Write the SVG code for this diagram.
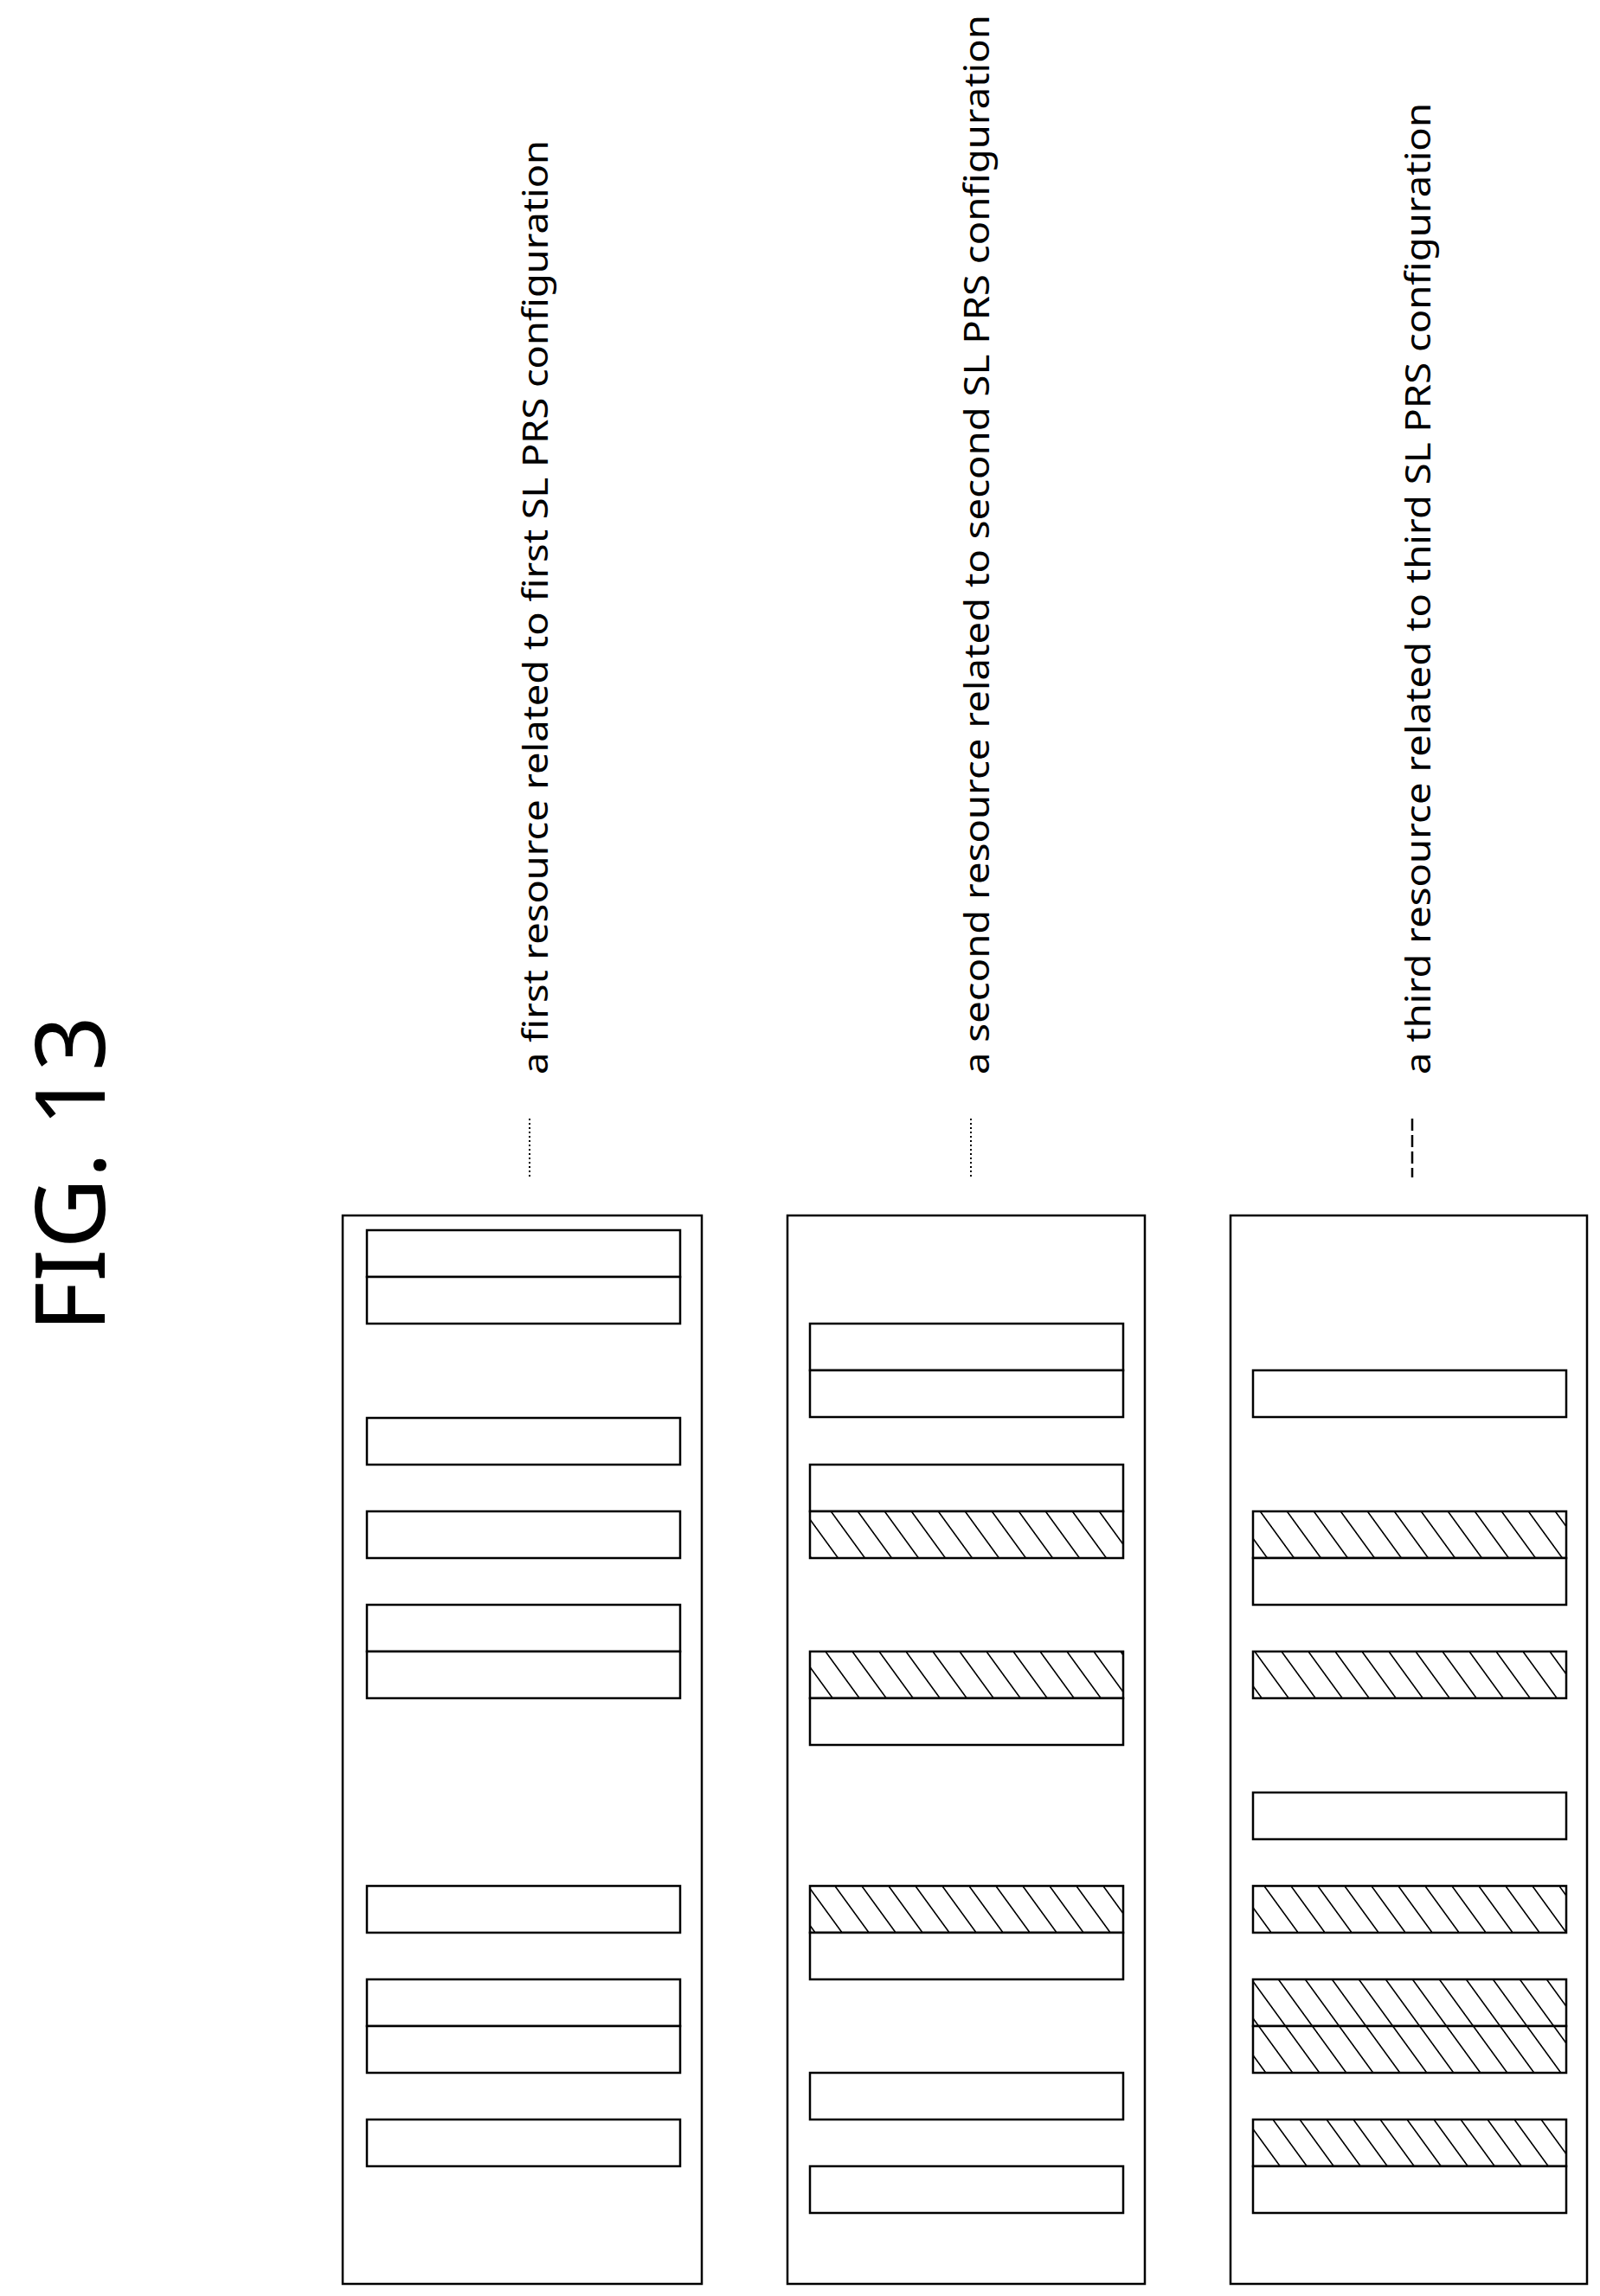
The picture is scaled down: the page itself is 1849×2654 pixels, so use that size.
<svg xmlns="http://www.w3.org/2000/svg" width="1849" height="2654" viewBox="0 0 1849 2654">
<style>
.outer{fill:none;stroke:#000;stroke-width:2.5}
.c{fill:#fff;stroke:#000;stroke-width:2.5}
.h{fill:url(#hatch);stroke:#000;stroke-width:2.5}
.lbl{font-family:"Noto Sans","DejaVu Sans",sans-serif;font-size:40px;fill:#000}
.title{font-family:"Noto Sans","DejaVu Sans",sans-serif;font-size:112px;fill:#000}
</style>
<defs>
<pattern id="hatch" patternUnits="userSpaceOnUse" width="31" height="10" patternTransform="skewX(36)">
<rect width="31" height="10" fill="#fff"/>
<line x1="1" y1="0" x2="1" y2="10" stroke="#000" stroke-width="2"/>
</pattern>
</defs>
<rect width="1849" height="2654" fill="#fff"/>
<text class="title" transform="translate(121,1540) rotate(-90)" textLength="366" lengthAdjust="spacingAndGlyphs">FIG. 13</text>
<g id="legend">
<line x1="612" y1="1293" x2="612" y2="1361" stroke="#000" stroke-width="2" stroke-dasharray="2,3"/>
<text class="lbl" transform="translate(633,1242) rotate(-90)" textLength="1080" lengthAdjust="spacingAndGlyphs">a first resource related to first SL PRS configuration</text>
<line x1="1122" y1="1293" x2="1122" y2="1361" stroke="#000" stroke-width="2" stroke-dasharray="2,3"/>
<text class="lbl" transform="translate(1143,1242) rotate(-90)" textLength="1225" lengthAdjust="spacingAndGlyphs">a second resource related to second SL PRS configuration</text>
<line x1="1632" y1="1293" x2="1632" y2="1361" stroke="#000" stroke-width="2.5" stroke-dasharray="14,5"/>
<text class="lbl" transform="translate(1653,1242) rotate(-90)" textLength="1123" lengthAdjust="spacingAndGlyphs">a third resource related to third SL PRS configuration</text>
</g>
<g id="config1">
<rect class="outer" x="396" y="1405" width="415" height="1235"/>
<rect class="c" x="424" y="1422" width="362" height="54"/>
<rect class="c" x="424" y="1476" width="362" height="54"/>
<rect class="c" x="424" y="1639" width="362" height="54"/>
<rect class="c" x="424" y="1747" width="362" height="54"/>
<rect class="c" x="424" y="1855" width="362" height="54"/>
<rect class="c" x="424" y="1909" width="362" height="54"/>
<rect class="c" x="424" y="2180" width="362" height="54"/>
<rect class="c" x="424" y="2288" width="362" height="54"/>
<rect class="c" x="424" y="2342" width="362" height="54"/>
<rect class="c" x="424" y="2450" width="362" height="54"/>
</g>
<g id="config2">
<rect class="outer" x="910" y="1405" width="413" height="1235"/>
<rect class="c" x="936" y="1530" width="362" height="54"/>
<rect class="c" x="936" y="1584" width="362" height="54"/>
<rect class="c" x="936" y="1693" width="362" height="54"/>
<rect class="h" x="936" y="1747" width="362" height="54"/>
<rect class="h" x="936" y="1909" width="362" height="54"/>
<rect class="c" x="936" y="1963" width="362" height="54"/>
<rect class="h" x="936" y="2180" width="362" height="54"/>
<rect class="c" x="936" y="2234" width="362" height="54"/>
<rect class="c" x="936" y="2396" width="362" height="54"/>
<rect class="c" x="936" y="2504" width="362" height="54"/>
</g>
<g id="config3">
<rect class="outer" x="1422" y="1405" width="412" height="1235"/>
<rect class="c" x="1448" y="1584" width="362" height="54"/>
<rect class="h" x="1448" y="1747" width="362" height="54"/>
<rect class="c" x="1448" y="1801" width="362" height="54"/>
<rect class="h" x="1448" y="1909" width="362" height="54"/>
<rect class="c" x="1448" y="2072" width="362" height="54"/>
<rect class="h" x="1448" y="2180" width="362" height="54"/>
<rect class="h" x="1448" y="2288" width="362" height="54"/>
<rect class="h" x="1448" y="2342" width="362" height="54"/>
<rect class="h" x="1448" y="2450" width="362" height="54"/>
<rect class="c" x="1448" y="2504" width="362" height="54"/>
</g>
</svg>
